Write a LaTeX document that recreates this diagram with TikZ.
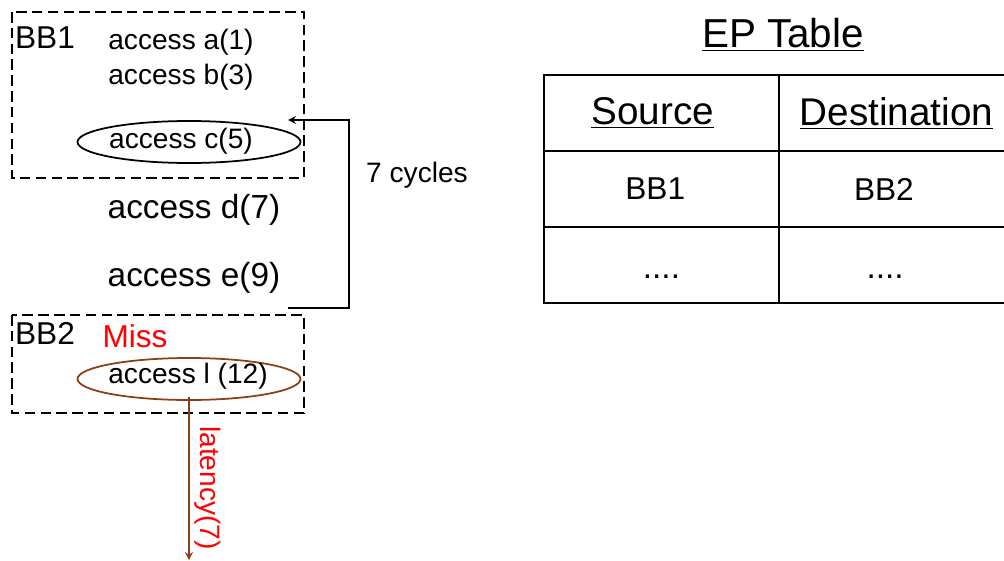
\documentclass[tikz,border=0pt]{standalone}
\usepackage{fontspec}
\setmainfont{Liberation Sans}
\usetikzlibrary{arrows, positioning, shapes.geometric}
\tikzset{>=stealth}
\definecolor{missred}{RGB}{255,0,0}
\definecolor{latbrown}{RGB}{140,62,22}
\tikzset{
  bbox/.style={draw, line width=1.1pt, dash pattern=on 6pt off 3pt},
  acc/.style={font=\fontsize{16}{19}\selectfont, inner sep=0pt},
  bigacc/.style={font=\fontsize{19}{22}\selectfont, inner sep=0pt},
  bbname/.style={font=\fontsize{18}{21}\selectfont, inner sep=0pt},
  ring/.style={draw, ellipse, line width=1pt, minimum width=4.46cm, minimum height=0.84cm, inner sep=0pt},
  cell/.style={draw, line width=0.7pt, outer sep=0pt, minimum width=4.7cm, minimum height=1.52cm, anchor=north west, font=\fontsize{18}{21}\selectfont},
  headcell/.style={cell, font=\fontsize{22}{26}\selectfont},
  dotcell/.style={cell, font=\fontsize{19}{22}\selectfont, text height=15pt, text depth=0pt}
}

\begin{document}
\begin{tikzpicture}[x=0.02cm, y=-0.02cm, >=stealth]
        \useasboundingbox (0,0) rectangle (1004,561);

        % basic block 1
        \draw [bbox] (12,12) rectangle (304,178);
        \node [bbname] (bbone) at (45,38) {BB1};
        \node [acc] (acca) at (181,42) {access a(1)};
        \node [acc] (accb) at (181,77) {access b(3)};
        \node [ring] (cring) at (189,142) {};
        \node [acc] (accc) at (181,141) {access c(5)};

        \node [bigacc] (accd) at (194,210) {access d(7)};
        \node [bigacc] (acce) at (194,278) {access e(9)};

        % basic block 2
        \draw [bbox] (12,315) rectangle (304,413);
        \node [bbname] (bbtwo) at (45,333) {BB2};
        \node [bbname, text=missred] (miss) at (135,336) {Miss};
        \node [ring, draw=latbrown] (lring) at (189,379) {};
        \node [acc] (accl) at (188,376) {access l (12)};

        % distance back to BB1
        \coordinate (loopstart) at (288,308);
        \coordinate (loopend) at (288,120);
        \draw [->, line width=1pt] (loopstart) -- (349,308) -- (349,120) -- (loopend);
        \node [font=\fontsize{16}{19}\selectfont, inner sep=0pt] (cyc) at (417,175) {7 cycles};

        \coordinate (latend) at (189,560);
        \draw [->, latbrown, line width=1pt] (lring.south |- 0,397) -- (latend);
        \node [rotate=-90, text=missred, font=\fontsize{16}{19}\selectfont, inner sep=0pt] (lat) at (208,488) {latency(7)};

        % EP table
        \node [font=\fontsize{23}{27}\selectfont, inner sep=0pt] (eptitle) at (783,35) {\underline{EP Table}};
        \node [headcell, text width=4.3cm, align=center] (srchead) at (544,75) {\hspace*{-0.35cm}\underline{Source}};
        \node [headcell, right=0pt of srchead.north east, anchor=north west] (dsthead) {\underline{Destination}};
        \node [cell, below=0pt of srchead.south west, anchor=north west] (srcone) {\hspace*{-0.25cm}BB1};
        \node [cell, right=0pt of srcone.north east, anchor=north west] (dstone) {BB2\hspace*{0.5cm}};
        \node [dotcell, below=0pt of srcone.south west, anchor=north west] (srcmore) {....};
        \node [dotcell, right=0pt of srcmore.north east, anchor=north west] (dstmore) {....\hspace*{0.45cm}};
\end{tikzpicture}
\end{document}
